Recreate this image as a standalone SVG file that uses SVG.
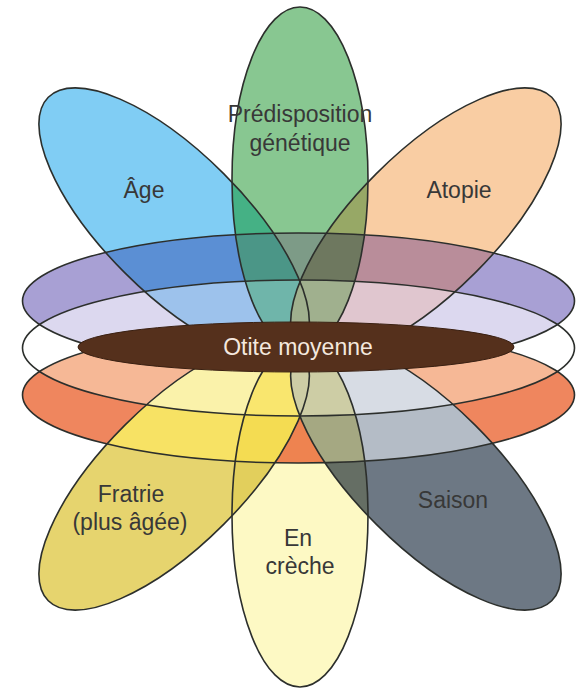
<svg xmlns="http://www.w3.org/2000/svg" width="580" height="690" viewBox="0 0 580 690">
<style>
.ln{fill:none;stroke:#2c2f2c;stroke-width:1.6}
.lbl{font-family:"Liberation Sans",Arial,sans-serif;font-size:23px;fill:#383838;text-anchor:middle}
.ctr{font-family:"Liberation Sans",Arial,sans-serif;font-size:23px;fill:#f4e8de;text-anchor:middle}
.wh{fill:#ffffff}
/* outside the rings */
.nA{fill:#80cdf4}.nG{fill:#88c791}.nT{fill:#f9cda3}.nAG{fill:#45b185}.nGT{fill:#97a866}
.nF{fill:#e6d46e}.nE{fill:#fdf9c4}.nS{fill:#6d7884}.nFE{fill:#e2cf5c}.nES{fill:#656e64}
/* dark purple band */
.bDP{fill:#a8a0d4}.dA{fill:#5b8fd4}.dG{fill:#7d9b87}.dT{fill:#b98d9a}.dAG{fill:#4b9687}.dGT{fill:#6e785f}
/* lavender band */
.bLV{fill:#dcd8ef}.lA{fill:#9dc2ec}.lG{fill:#a5cdc3}.lT{fill:#e0c6cf}.lAG{fill:#6fb5aa}.lGT{fill:#a0b08e}
/* salmon band */
.bSA{fill:#f6b896}.sF{fill:#faf2aa}.sE{fill:#f4b98c}.sS{fill:#d7dce4}.sFE{fill:#f9e66e}.sES{fill:#cdcda5}
/* dark orange band */
.bDO{fill:#ef865e}.oF{fill:#f7e264}.oE{fill:#ee8350}.oS{fill:#b4bcc6}.oFE{fill:#f4dc52}.oES{fill:#a5a882}
</style>
<defs>
<ellipse id="pA" cx="300" cy="171" rx="70" ry="178" transform="rotate(-45 300 349)"/>
<ellipse id="pG" cx="300" cy="179" rx="68" ry="172"/>
<ellipse id="pT" cx="300" cy="171" rx="70" ry="178" transform="rotate(45 300 349)"/>
<ellipse id="pF" cx="300" cy="527" rx="70" ry="178" transform="rotate(45 300 349)"/>
<ellipse id="pE" cx="300" cy="515" rx="68" ry="172"/>
<ellipse id="pS" cx="300" cy="527" rx="70" ry="178" transform="rotate(-45 300 349)"/>
<ellipse id="r1" cx="298.5" cy="301" rx="276" ry="68"/>
<ellipse id="r2" cx="298.5" cy="348" rx="276" ry="68"/>
<ellipse id="r3" cx="298.5" cy="395" rx="276" ry="68"/>
<clipPath id="cA"><ellipse cx="300" cy="171" rx="70" ry="178" transform="rotate(-45 300 349)"/></clipPath>
<clipPath id="cT"><ellipse cx="300" cy="171" rx="70" ry="178" transform="rotate(45 300 349)"/></clipPath>
<clipPath id="cF"><ellipse cx="300" cy="527" rx="70" ry="178" transform="rotate(45 300 349)"/></clipPath>
<clipPath id="cS"><ellipse cx="300" cy="527" rx="70" ry="178" transform="rotate(-45 300 349)"/></clipPath>
<clipPath id="cR1"><ellipse cx="298.5" cy="301" rx="276" ry="68"/></clipPath>
<clipPath id="cR2"><ellipse cx="298.5" cy="348" rx="276" ry="68"/></clipPath>
<clipPath id="cR3"><ellipse cx="298.5" cy="395" rx="276" ry="68"/></clipPath>
</defs>

<g id="fills-outside">
<use href="#pA" class="nA"/><use href="#pG" class="nG"/><use href="#pT" class="nT"/>
<g clip-path="url(#cA)"><use href="#pG" class="nAG"/></g>
<g clip-path="url(#cT)"><use href="#pG" class="nGT"/></g>
<use href="#pF" class="nF"/><use href="#pE" class="nE"/><use href="#pS" class="nS"/>
<g clip-path="url(#cF)"><use href="#pE" class="nFE"/></g>
<g clip-path="url(#cS)"><use href="#pE" class="nES"/></g>
</g>

<g id="band-purple">
<use href="#r1" class="bDP"/>
<g clip-path="url(#cR1)">
<use href="#pA" class="dA"/><use href="#pG" class="dG"/><use href="#pT" class="dT"/>
<g clip-path="url(#cA)"><use href="#pG" class="dAG"/></g>
<g clip-path="url(#cT)"><use href="#pG" class="dGT"/></g>
</g>
</g>

<g id="band-orange">
<use href="#r3" class="bDO"/>
<g clip-path="url(#cR3)">
<use href="#pF" class="oF"/><use href="#pE" class="oE"/><use href="#pS" class="oS"/>
<g clip-path="url(#cF)"><use href="#pE" class="oFE"/></g>
<g clip-path="url(#cS)"><use href="#pE" class="oES"/></g>
</g>
</g>

<g id="band-white"><use href="#r2" class="wh"/></g>

<g id="band-lavender" clip-path="url(#cR2)">
<g clip-path="url(#cR1)">
<use href="#r1" class="bLV"/>
<use href="#pA" class="lA"/><use href="#pG" class="lG"/><use href="#pT" class="lT"/>
<g clip-path="url(#cA)"><use href="#pG" class="lAG"/></g>
<g clip-path="url(#cT)"><use href="#pG" class="lGT"/></g>
</g>
</g>

<g id="band-salmon" clip-path="url(#cR2)">
<g clip-path="url(#cR3)">
<use href="#r3" class="bSA"/>
<use href="#pF" class="sF"/><use href="#pE" class="sE"/><use href="#pS" class="sS"/>
<g clip-path="url(#cF)"><use href="#pE" class="sFE"/></g>
<g clip-path="url(#cS)"><use href="#pE" class="sES"/></g>
</g>
</g>

<g id="rings">
<use href="#r1" class="ln"/><use href="#r2" class="ln"/><use href="#r3" class="ln"/>
</g>

<g id="node-age"><use href="#pA" class="ln"/><text class="lbl" x="144" y="198">Âge</text></g>
<g id="node-predisposition"><use href="#pG" class="ln"/><text class="lbl" x="300" y="122">Prédisposition</text><text class="lbl" x="300" y="151">génétique</text></g>
<g id="node-atopie"><use href="#pT" class="ln"/><text class="lbl" x="459" y="198">Atopie</text></g>
<g id="node-fratrie"><use href="#pF" class="ln"/><text class="lbl" x="131" y="502">Fratrie</text><text class="lbl" x="130" y="530">(plus âgée)</text></g>
<g id="node-creche"><use href="#pE" class="ln"/><text class="lbl" x="298" y="546">En</text><text class="lbl" x="300" y="574">crèche</text></g>
<g id="node-saison"><use href="#pS" class="ln"/><text class="lbl" x="453" y="508">Saison</text></g>

<g id="node-otite">
<ellipse cx="296" cy="347" rx="218" ry="25" fill="#55301c" stroke="#3a2012" stroke-width="1"/>
<text class="ctr" x="298" y="355">Otite moyenne</text>
</g>
</svg>
